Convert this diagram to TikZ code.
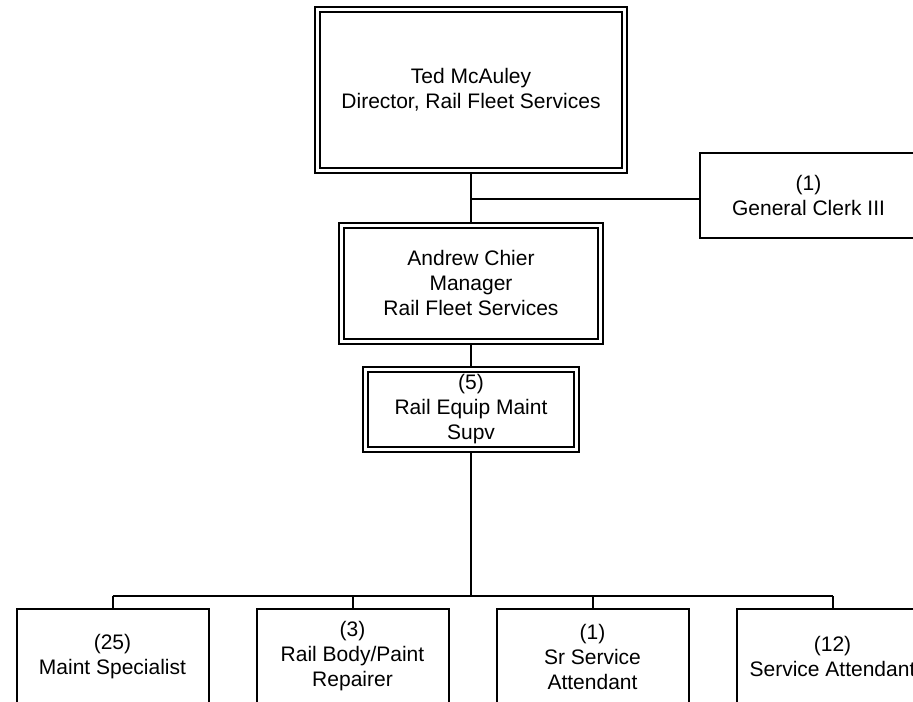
\documentclass[tikz,border=0pt]{standalone}
\usepackage{fontspec}
\setmainfont{Liberation Sans}
\usetikzlibrary{calc}
\tikzset{
    lab/.style={
        font=\fontsize{15.75}{18.75}\selectfont
    }
}

\begin{document}
\begin{tikzpicture}[x=0.75pt,y=-0.75pt]
    \def\px{0.75pt}
    \def\lw{1.5pt}

    \definecolor{org-line}{HTML}{000000}

    \tikzset{
      orgbox/.style={
        draw=org-line,
        line width=\lw,
        lab,
        align=center,
        inner sep=0pt
      },
      headbox/.style={
        orgbox,
        double,
        double distance=2.25pt,
        outer sep=2.625pt
      },
      staffbox/.style={
        orgbox,
        minimum width=192*\px,
        minimum height=96*\px
      },
      link/.style={
        draw=org-line,
        line width=\lw
      }
    }

    \useasboundingbox (0,0) rectangle (913,701);
    \clip (0,0) rectangle (913,701);

    % management chain
    \node[headbox, minimum width=307*\px, minimum height=161*\px] (ted) at (471,89.5)
      {Ted McAuley\\Director, Rail Fleet Services};
    \node[headbox, minimum width=259*\px, minimum height=115.5*\px] (andrew) at (471,283.25)
      {Andrew Chier\\Manager\\Rail Fleet Services};
    \node[headbox, minimum width=211*\px, minimum height=80*\px] (supv) at (471,409.5)
      {(5)\\Rail Equip Maint\\Supv};

    \node[orgbox, minimum width=218*\px, minimum height=85*\px] (clerk) at (808.5,195)
      {(1)\\General Clerk III};

    % staff row
    \node[staffbox] (maint) at (112.5,656.5) {(25)\\Maint Specialist};
    \node[staffbox] (body)  at (352.5,656.5) {(3)\\Rail Body/Paint\\Repairer};
    \node[staffbox] (srsvc) at (592.5,656.5) {(1)\\Sr Service\\Attendant};
    \node[staffbox] (svc)   at (832.5,656.5) {(12)\\Service Attendant};

    % connectors
    \draw[link] (ted.south) -- (andrew.north);
    \coordinate (clerkjoin) at (471,199);
    \draw[link] (clerkjoin) -- (clerkjoin -| clerk.west);
    \draw[link] (andrew.south) -- (supv.north);

    \coordinate (bus) at (471,596);
    \draw[link] (supv.south) -- (bus);
    \draw[link] (maint.north |- bus) -- (svc.north |- bus);
    \foreach \n in {maint,body,srsvc,svc}
      \draw[link] (\n.north |- bus) -- (\n.north);
\end{tikzpicture}
\end{document}
